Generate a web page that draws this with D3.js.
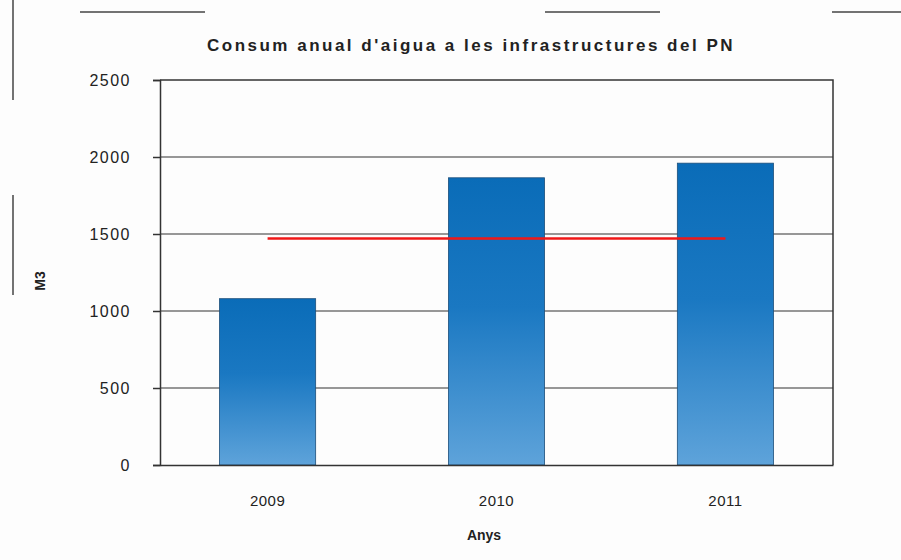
<!DOCTYPE html>
<html>
<head>
<meta charset="utf-8">
<script src="https://cdn.jsdelivr.net/npm/d3@7"></script>
<style>
  body { margin: 0; background: #fdfdfd; }
  text { font-family: "Liberation Sans", Arial, sans-serif; fill: #222; }
</style>
</head>
<body>
<div id="chart"></div>
<script>
// data
const years = ["2009", "2010", "2011"];
const consum = [1080, 1865, 1960];
const referencia = 1470;
const yTicks = [0, 500, 1000, 1500, 2000, 2500];

const width = 901, height = 560;
const margin = {top: 80, right: 68, bottom: 95, left: 160};

const svg = d3.select("#chart").append("svg")
    .attr("width", width)
    .attr("height", height);

// gradient for the bars
const grad = svg.append("defs").append("linearGradient")
    .attr("id", "barGrad")
    .attr("x1", 0).attr("y1", 0).attr("x2", 0).attr("y2", 1);
grad.append("stop").attr("offset", "0%").attr("stop-color", "#0a6cb8");
grad.append("stop").attr("offset", "45%").attr("stop-color", "#1a78c2");
grad.append("stop").attr("offset", "100%").attr("stop-color", "#5ea3da");

// scan frame remains
svg.append("line").attr("x1", 13).attr("x2", 13).attr("y1", 0).attr("y2", 100)
    .attr("stroke", "#444").attr("stroke-width", 1.5);
svg.append("line").attr("x1", 13).attr("x2", 13).attr("y1", 195).attr("y2", 295)
    .attr("stroke", "#444").attr("stroke-width", 1.5);
[[80, 205], [545, 660], [832, 901]].forEach(s => {
    svg.append("line").attr("x1", s[0]).attr("x2", s[1]).attr("y1", 12).attr("y2", 12)
        .attr("stroke", "#444").attr("stroke-width", 1.5);
});

const x = d3.scaleBand()
    .domain(years)
    .range([margin.left, width - margin.right])
    .paddingInner(0.58)
    .paddingOuter(0.26);

const y = d3.scaleLinear()
    .domain([0, 2500])
    .range([height - margin.bottom, margin.top]);

// gridlines
svg.append("g")
    .selectAll("line")
    .data(yTicks.slice(1, -1))
    .enter()
    .append("line")
    .attr("x1", margin.left)
    .attr("x2", width - margin.right)
    .attr("y1", d => y(d))
    .attr("y2", d => y(d))
    .attr("stroke", "#333")
    .attr("stroke-width", 1.2);

// plot box (top and right)
svg.append("path")
    .attr("d", `M${margin.left},${margin.top}H${width - margin.right}V${height - margin.bottom}`)
    .attr("fill", "none")
    .attr("stroke", "#333")
    .attr("stroke-width", 1.5);

// bars
svg.append("g")
    .selectAll("rect")
    .data(consum)
    .enter()
    .append("rect")
    .attr("x", (d, i) => x(years[i]))
    .attr("y", d => y(d))
    .attr("width", x.bandwidth())
    .attr("height", d => y(0) - y(d))
    .attr("fill", "url(#barGrad)")
    .attr("stroke", "#1d4f7a")
    .attr("stroke-width", 0.8);

// red reference line
svg.append("line")
    .attr("x1", x(years[0]) + x.bandwidth() / 2)
    .attr("x2", x(years[years.length - 1]) + x.bandwidth() / 2)
    .attr("y1", y(referencia))
    .attr("y2", y(referencia))
    .attr("stroke", "#f01818")
    .attr("stroke-width", 2.5);

// y axis
const yAxis = svg.append("g")
    .attr("transform", `translate(${margin.left},0)`)
    .call(d3.axisLeft(y).tickValues(yTicks).tickSize(7).tickPadding(22).tickFormat(d3.format("d")));
yAxis.select(".domain").attr("stroke", "#333").attr("stroke-width", 1.5);
yAxis.selectAll(".tick line").attr("stroke", "#333").attr("stroke-width", 1.5);
yAxis.selectAll("text").style("font-size", "16px").style("letter-spacing", "1.5px").attr("fill", "#333");

// x axis
const xAxis = svg.append("g")
    .attr("transform", `translate(0,${height - margin.bottom})`)
    .call(d3.axisBottom(x).tickSize(0).tickPadding(30));
xAxis.select(".domain").attr("stroke", "#333").attr("stroke-width", 1.5);
xAxis.selectAll("text").style("font-size", "15px").style("letter-spacing", "0.5px").attr("fill", "#333");

// title
svg.append("text")
    .attr("x", 471)
    .attr("y", 51)
    .attr("text-anchor", "middle")
    .style("font-size", "17px")
    .style("font-weight", "bold")
    .style("letter-spacing", "2.5px")
    .text("Consum anual d'aigua a les infrastructures del PN");

// axis titles
svg.append("text")
    .attr("x", 484)
    .attr("y", 540)
    .attr("text-anchor", "middle")
    .style("font-size", "14px")
    .style("font-weight", "bold")
    .text("Anys");

svg.append("text")
    .attr("transform", "translate(45,281) rotate(-90)")
    .attr("text-anchor", "middle")
    .style("font-size", "14px")
    .style("font-weight", "bold")
    .text("M3");
</script>
</body>
</html>
